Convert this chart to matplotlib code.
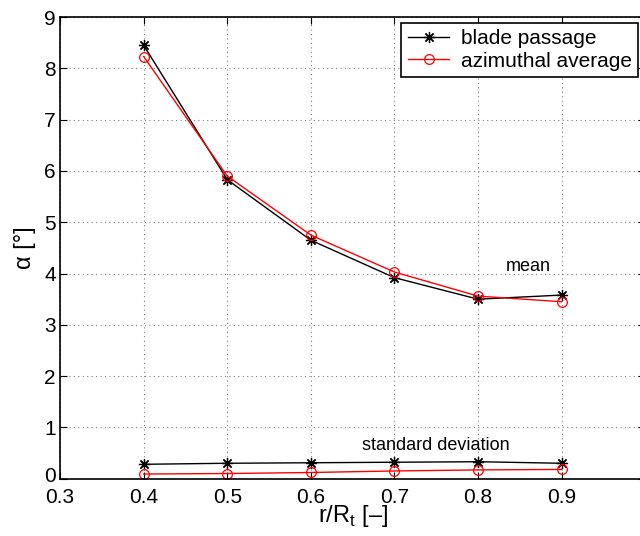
#!/usr/bin/env python3

import matplotlib
matplotlib.use("Agg")
from matplotlib import pyplot as plt
from matplotlib.transforms import ScaledTranslation

r = [0.4, 0.5, 0.6, 0.7, 0.8, 0.9]

# mean flow angle
mean_blade = [8.45, 5.83, 4.65, 3.92, 3.50, 3.58]
mean_azim = [8.23, 5.90, 4.75, 4.03, 3.56, 3.45]

# standard deviation
std_blade = [0.28, 0.30, 0.31, 0.32, 0.33, 0.30]
std_azim = [0.09, 0.10, 0.12, 0.15, 0.17, 0.18]

xticks = [0.3, 0.4, 0.5, 0.6, 0.7, 0.8, 0.9]
yticks = list(range(0, 10))

plt.rcParams["font.family"] = ["Liberation Sans", "DejaVu Sans"]
plt.rcParams["mathtext.fontset"] = "custom"
plt.rcParams["mathtext.rm"] = "Liberation Sans"

fig = plt.figure(figsize=(6.4, 5.36), dpi=100)
ax = fig.add_axes([0.094, 0.107, 0.914, 0.861])

star = (8, 2, 0)
ax.plot(r, mean_blade, color="black", marker=star, ms=8, mew=0.9, lw=1,
        label="blade passage")
ax.plot(r, mean_azim, color="red", marker="o", ms=7, mfc="none", mew=0.9, lw=1,
        label="azimuthal average")
ax.plot(r, std_blade, color="black", marker=star, ms=8, mew=0.9, lw=1)
ax.plot(r, std_azim, color="red", marker="o", ms=7, mfc="none", mew=0.9, lw=1)

ax.text(0.86, 4.14, "mean", fontsize=13, ha="center", va="center")
ax.text(0.749, 0.65, "standard deviation", fontsize=13, ha="center", va="center")

ax.set_xlim(0.3, 1.0)
ax.set_ylim(0, 9)
ax.set_xticks(xticks)
ax.set_yticks(yticks)
ax.tick_params(direction="in", labelsize=15, top=True, right=True, length=5)
ax.tick_params(axis="x", pad=7)
ax.tick_params(axis="y", pad=3)
ax.grid(True, linestyle=(0, (1, 3)), color="gray", lw=0.8)
for s in ax.spines.values():
    s.set_linewidth(1.2)

# lift the "0" on the y axis a little so it clears the "0.3" below it
fig.canvas.draw()
lab0 = ax.get_yticklabels()[0]
lab0.set_transform(lab0.get_transform() + ScaledTranslation(0, 3 / 72, fig.dpi_scale_trans))

ax.set_xlabel("r/R$_\\mathregular{t}$ [\u2013]", fontsize=17, labelpad=-3)
ax.set_ylabel("\u03b1 [\u00b0]", fontsize=17, labelpad=6)

leg = ax.legend(loc="upper right", bbox_to_anchor=(0.988, 0.987), fontsize=15,
                fancybox=False, edgecolor="black", framealpha=1,
                borderaxespad=0, handlelength=2.0, handletextpad=0.55,
                borderpad=0.3, labelspacing=0.15)
leg.get_frame().set_linewidth(1.2)

plt.savefig("out.png")
